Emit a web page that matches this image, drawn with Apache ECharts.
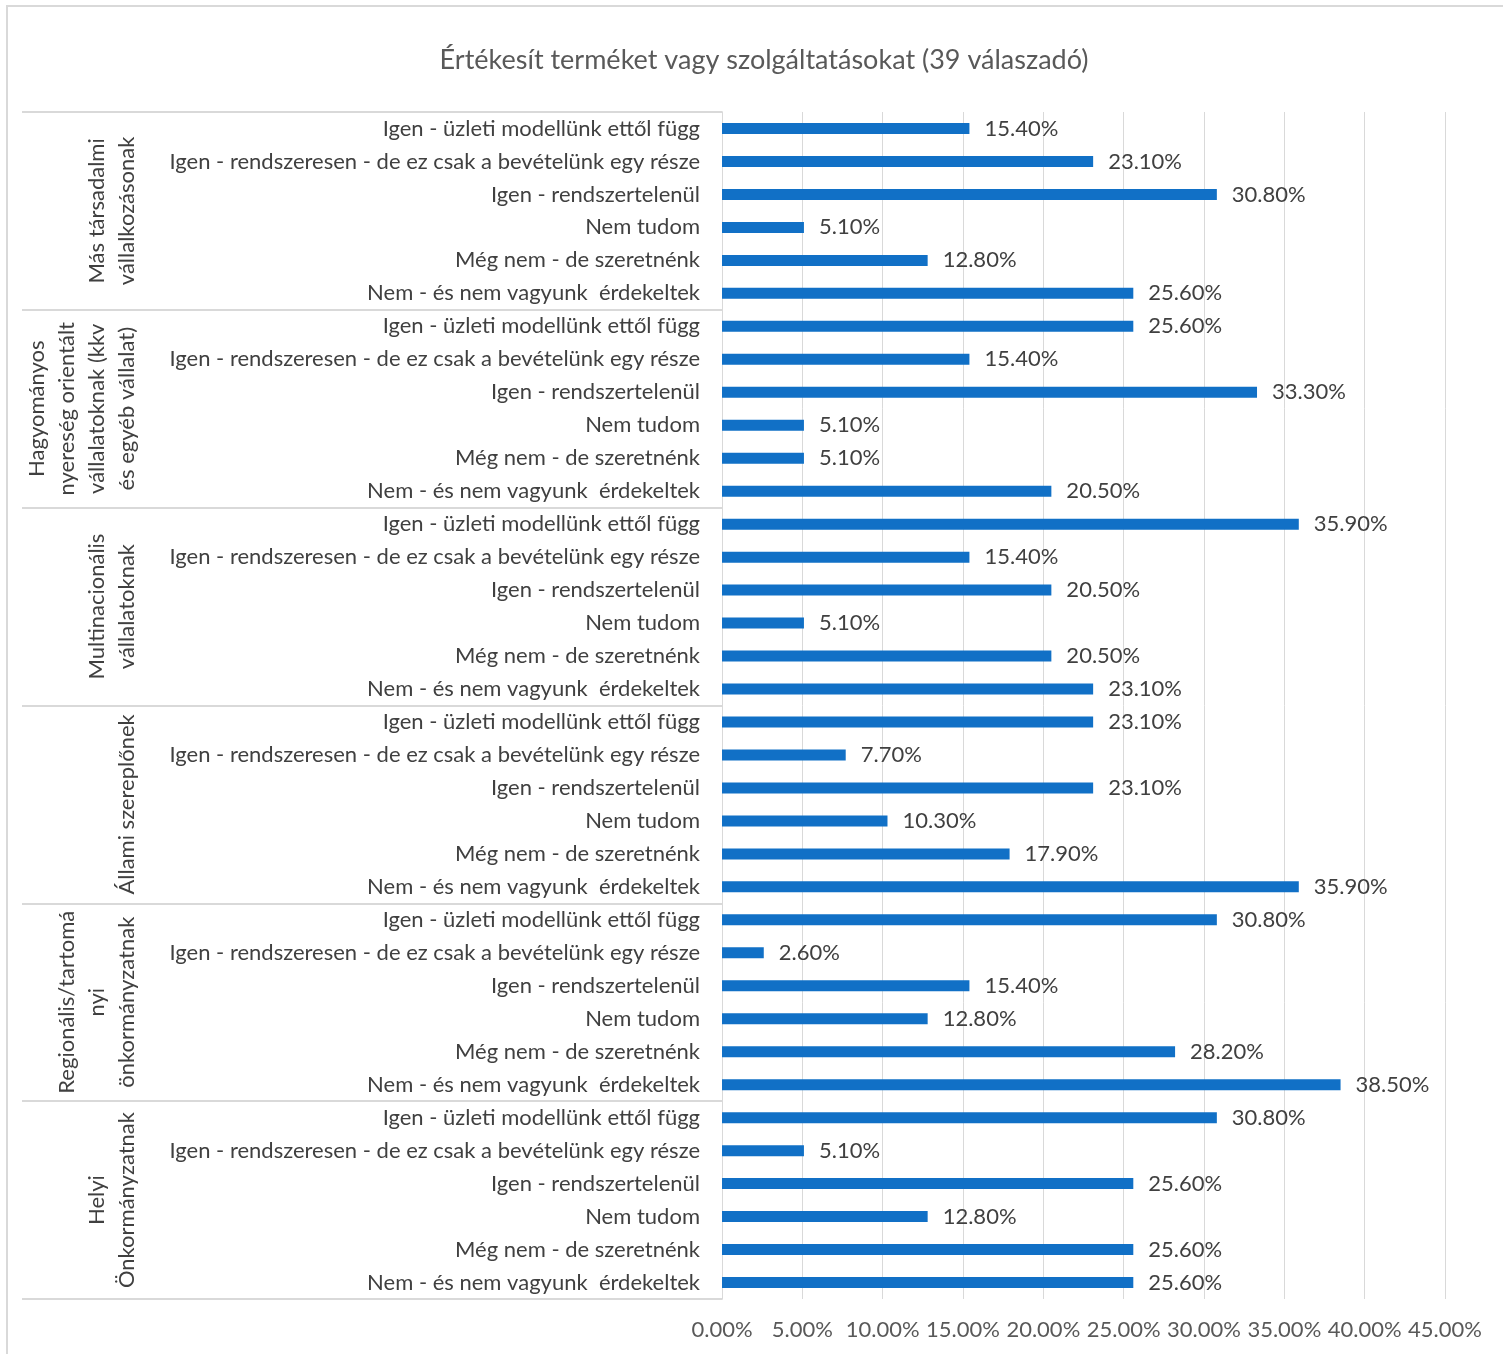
<!DOCTYPE html>
<html>
<head>
<meta charset="utf-8">
<script src="https://cdn.jsdelivr.net/npm/echarts@6/dist/echarts.min.js"></script>
<style>
html,body{margin:0;padding:0;background:#fff;}
#chart{width:1503px;height:1354px;}
</style>
</head>
<body>
<div id="chart"></div>
<script>
const titleText = 'Értékesít terméket vagy szolgáltatásokat (39 válaszadó)';
const groups = [
  'Más társadalmi\nvállalkozásonak',
  'Hagyományos\nnyereség orientált\nvállalatoknak (kkv\nés egyéb vállalat)',
  'Multinacionális\nvállalatoknak',
  'Állami szereplőnek',
  'Regionális/tartomá\nnyi\nönkormányzatnak',
  'Helyi\nÖnkormányzatnak'
];
const answers = [
  'Igen - üzleti modellünk ettől függ',
  'Igen - rendszeresen - de ez csak a bevételünk egy része',
  'Igen - rendszertelenül',
  'Nem tudom',
  'Még nem - de szeretnénk',
  'Nem - és nem vagyunk  érdekeltek'
];
const valsMas = [15.4, 23.1, 30.8, 5.1, 12.8, 25.6];
const valsHagy = [25.6, 15.4, 33.3, 5.1, 5.1, 20.5];
const valsMulti = [35.9, 15.4, 20.5, 5.1, 20.5, 23.1];
const valsAllami = [23.1, 7.7, 23.1, 10.3, 17.9, 35.9];
const valsRegio = [30.8, 2.6, 15.4, 12.8, 28.2, 38.5];
const valsHelyi = [30.8, 5.1, 25.6, 12.8, 25.6, 25.6];
const xTicks = { min: 0, max: 45, interval: 5 };

const allVals = [].concat(valsMas, valsHagy, valsMulti, valsAllami, valsRegio, valsHelyi);
const cats = [];
groups.forEach(function () { answers.forEach(function (a) { cats.push(a); }); });

const FONT = 'Lato';
const FS = 22;
const chart = echarts.init(document.getElementById('chart'));
chart.setOption({
  backgroundColor: '#ffffff',
  textStyle: { fontFamily: FONT },
  title: {
    text: titleText,
    left: 759, top: 42, textAlign: 'center',
    textStyle: { fontFamily: FONT, fontSize: 27, fontWeight: 'normal', color: '#595959' }
  },
  graphic: [{
    type: 'rect', silent: true, z: -1,
    shape: { x: 7, y: 6, width: 1600, height: 1500 },
    style: { fill: 'none', stroke: '#d9d9d9', lineWidth: 2 }
  }],
  grid: { left: 722, right: 58, top: 112, bottom: 55, containLabel: false },
  xAxis: {
    type: 'value', min: xTicks.min, max: xTicks.max, interval: xTicks.interval,
    axisLine: { show: false }, axisTick: { show: false },
    splitLine: { lineStyle: { color: '#d9d9d9', width: 1 } },
    axisLabel: {
      margin: 20, fontSize: FS, color: '#595959', fontFamily: FONT,
      formatter: function (v) { return v.toFixed(2) + '%'; }
    }
  },
  yAxis: [{
    type: 'category', data: cats, inverse: true,
    axisLine: { show: true, lineStyle: { color: '#d9d9d9' } },
    axisTick: { show: false },
    axisLabel: { interval: 0, margin: 22, fontSize: FS, color: '#404040', fontFamily: FONT }
  }, {
    type: 'category', data: groups, inverse: true, position: 'left', offset: 0,
    axisLine: { show: true, lineStyle: { color: '#d9d9d9' } },
    axisTick: { show: true, length: 700, interval: 0, lineStyle: { color: '#d9d9d9', width: 2 } },
    axisLabel: { interval: 0, rotate: 90, margin: 580, fontSize: FS, lineHeight: 30, color: '#404040', fontFamily: FONT }
  }],
  series: [{
    type: 'bar', yAxisIndex: 0, data: allVals, barWidth: 11,
    itemStyle: { color: '#1170c6' },
    label: {
      show: true, position: 'right', distance: 15, fontSize: FS, color: '#404040', fontFamily: FONT,
      formatter: function (p) { return p.value.toFixed(2) + '%'; }
    },
    animation: false
  }],
  animation: false
});
</script>
</body>
</html>
